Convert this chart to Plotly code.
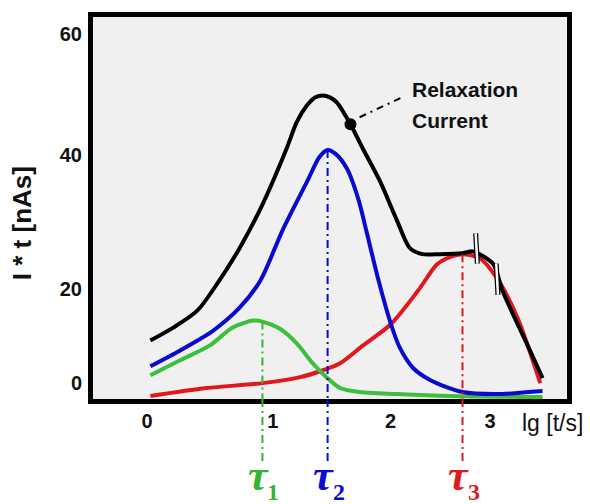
import plotly.graph_objects as go

# ---- data (x in lg[t/s], y in nAs) ----
black_x = [0.03, 0.23, 0.44, 0.61, 0.81, 1.01, 1.22, 1.31, 1.40, 1.47, 1.54, 1.60, 1.66, 1.78, 1.89, 2.04, 2.19, 2.30, 2.41, 2.56, 2.76, 2.85, 2.91, 3.03, 3.11, 3.24, 3.35, 3.46]
black_y = [7.35, 9.57, 12.48, 17.0, 23.25, 30.77, 40.34, 44.96, 47.86, 49.23, 49.57, 49.23, 48.38, 44.62, 40.34, 34.70, 27.86, 23.25, 22.22, 22.22, 22.39, 22.7, 22.22, 20.51, 15.90, 10.26, 5.64, 0.85]

blue_x = [0.03, 0.29, 0.58, 0.81, 0.99, 1.19, 1.40, 1.51, 1.58, 1.65, 1.75, 1.85, 1.92, 2.02, 2.13, 2.21, 2.33, 2.48, 2.76, 3.06, 3.46]
blue_y = [2.91, 5.64, 9.06, 12.99, 17.61, 26.5, 34.70, 39.0, 40.17, 39.49, 36.92, 31.62, 26.15, 18.12, 10.43, 6.15, 2.56, 0.51, -1.54, -1.88, -1.37]

green_x = [0.03, 0.29, 0.55, 0.75, 0.93, 1.01, 1.16, 1.31, 1.45, 1.57, 1.69, 1.86, 2.19, 2.65, 3.46]
green_y = [1.37, 3.93, 6.50, 9.57, 10.77, 10.60, 9.40, 6.84, 3.42, 1.03, -0.85, -1.54, -1.88, -2.22, -2.39]

red_x = [0.03, 0.52, 1.01, 1.34, 1.54, 1.69, 1.89, 2.13, 2.37, 2.54, 2.65, 2.76, 2.91, 3.06, 3.24, 3.44]
red_y = [-2.22, -0.85, 0.0, 1.03, 2.22, 3.42, 6.50, 10.09, 15.90, 20.51, 21.71, 22.22, 21.54, 18.12, 11.28, 0.0]

tau_x = [1.01, 1.58, 2.76]          # peak positions of the three components
tau_top = [10.60, 40.17, 22.22]      # peak heights
tau_names = ["1", "2", "3"]
tau_colors = ["#33b533", "#0a0ad0", "#e01a1a"]

marker_pt = (1.78, 44.62)
pointer_x = [1.86, 2.23]
pointer_y = [45.81, 49.23]
label_lines = ["Relaxation", "Current"]
label_y = [50.6, 45.3]
label_x = 2.30

# small break marks drawn across the black curve
break_x = [[2.875, 2.89], [3.055, 3.07]]
break_y = [[25.8, 20.6], [20.6, 15.2]]

xtick_vals = [0, 1.10, 2.13, 3.0]
xtick_text = ["0", "1", "2", "3"]
ytick_vals = [0, 16.3, 39.3, 60.2]
ytick_text = ["0", "20", "40", "60"]

fig = go.Figure()
for xs, ys, col in [(red_x, red_y, "#e3161b"), (green_x, green_y, "#3cbf3c"),
                    (blue_x, blue_y, "#0a0acf"), (black_x, black_y, "#000000")]:
    fig.add_trace(go.Scatter(x=xs, y=ys, mode="lines",
                             line=dict(color=col, width=4, shape="spline", smoothing=0.8),
                             hoverinfo="skip", showlegend=False))

for bx, by in zip(break_x, break_y):
    fig.add_trace(go.Scatter(x=bx, y=by, mode="lines", line=dict(color="#000", width=5),
                             showlegend=False, hoverinfo="skip"))
    fig.add_trace(go.Scatter(x=bx, y=by, mode="lines", line=dict(color="#ffffff", width=2.5),
                             showlegend=False, hoverinfo="skip"))

fig.add_trace(go.Scatter(x=pointer_x, y=pointer_y, mode="lines",
                         line=dict(color="#000", width=2, dash="7px,5px,2px,5px"),
                         showlegend=False, hoverinfo="skip"))
fig.add_trace(go.Scatter(x=[marker_pt[0]], y=[marker_pt[1]], mode="markers",
                         marker=dict(color="#000", size=12), showlegend=False, hoverinfo="skip"))

shapes = []
annotations = []
for tx, ty, name, col in zip(tau_x, tau_top, tau_names, tau_colors):
    shapes.append(dict(type="line", xref="x", yref="y", x0=tx, x1=tx, y0=ty, y1=-10,
                       line=dict(color=col, width=2, dash="8px,4px,2px,4px"), layer="above"))
    shapes.append(dict(type="line", xref="x", yref="paper", x0=tx, x1=tx, y0=0, y1=-0.165,
                       line=dict(color=col, width=2, dash="8px,4px,2px,4px"), layer="above"))
    annotations.append(dict(x=tx, y=-0.20, xref="x", yref="paper", text="<b><i>τ</i></b>",
                            showarrow=False, xshift=-4, yanchor="middle", xanchor="center",
                            font=dict(family="Liberation Serif", size=44, color=col)))
    annotations.append(dict(x=tx, y=-0.244, xref="x", yref="paper", text="<b>" + name + "</b>",
                            showarrow=False, xshift=11, yanchor="middle", xanchor="center",
                            font=dict(family="Liberation Serif", size=24, color=col)))

for txt, yy in zip(label_lines, label_y):
    annotations.append(dict(x=label_x, y=yy, xref="x", yref="y", text="<b>" + txt + "</b>",
                            showarrow=False, xanchor="left", yanchor="middle",
                            font=dict(family="Liberation Sans", size=21, color="#111")))

annotations.append(dict(x=0.901, y=-0.062, xref="paper", yref="paper", text="lg [t/s]",
                        showarrow=False, xanchor="left", yanchor="middle",
                        font=dict(family="Liberation Sans", size=23, color="#111")))
annotations.append(dict(x=-0.150, y=0.46, xref="paper", yref="paper", text="<b>I * t [nAs]</b>",
                        showarrow=False, textangle=-90, xanchor="center", yanchor="middle",
                        font=dict(family="Liberation Sans", size=26, color="#111")))

fig.update_layout(
    width=590, height=504,
    margin=dict(l=93, r=23, t=14, b=105),
    paper_bgcolor="white", plot_bgcolor="#f0f0f0",
    shapes=shapes, annotations=annotations,
    xaxis=dict(range=[-0.472, 3.674], showgrid=False, zeroline=False,
               showline=True, mirror=True, linecolor="#000", linewidth=5,
               tickvals=xtick_vals, ticktext=xtick_text, ticks="",
               tickfont=dict(family="Liberation Sans", size=20, color="#111", weight="bold")),
    yaxis=dict(range=[-2.735, 63.08], showgrid=False, zeroline=False,
               showline=True, mirror=True, linecolor="#000", linewidth=5,
               tickvals=ytick_vals, ticktext=ytick_text, ticks="", ticklabelstandoff=2,
               tickfont=dict(family="Liberation Sans", size=20, color="#111", weight="bold")),
)

fig.write_html("out.html")
